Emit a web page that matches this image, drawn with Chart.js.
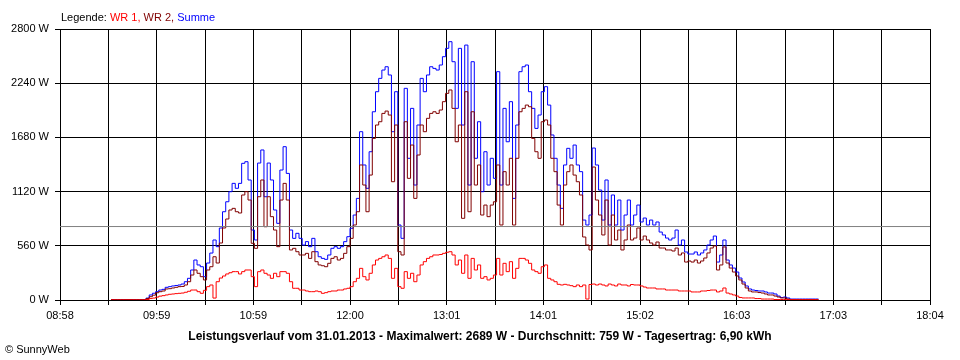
<!DOCTYPE html>
<html><head><meta charset="utf-8">
<script src="https://cdn.jsdelivr.net/npm/chart.js@4/dist/chart.umd.min.js"></script>
<style>
html,body{margin:0;padding:0;background:#fff;}
#wrap{position:relative;width:960px;height:360px;font-family:'Liberation Sans',Arial,sans-serif;color:#000;}
canvas{position:absolute;left:0;top:0;}
#legend{position:absolute;left:61px;top:11px;font-size:11px;line-height:13px;white-space:pre;}
#caption{position:absolute;left:0;width:960px;top:329px;text-align:center;font-weight:bold;font-size:12px;line-height:14px;}
#copy{position:absolute;left:5px;top:343px;font-size:11px;line-height:13px;}
</style></head>
<body><div id="wrap"><canvas id="c" width="960" height="360"></canvas>
<div id="legend"><span>Legende: </span><span style="color:#ff0000">WR 1, </span><span style="color:#800000">WR 2, </span><span style="color:#0000ff">Summe</span></div>
<div id="caption">Leistungsverlauf vom 31.01.2013 - Maximalwert: 2689 W - Durchschnitt: 759 W - Tagesertrag: 6,90 kWh</div>
<div id="copy">© SunnyWeb</div>
</div>
<script>
// time axis (minutes of day)
const axisStart = 538;   // 08:58
const axisEnd = 1084;    // 18:04
const sampleStart = 570; // 09:30
const sampleStep = 2;    // minutes between samples
const yTicks = [0, 560, 1120, 1680, 2240, 2800];
const average = 759;

const summe = [
5,5,5,5,5,5,5,5,5,5,
5,20,52,70,86,103,110,131,138,145,
150,155,165,189,224,310,413,362,344,241,
382,485,620,551,744,912,1015,1119,1205,1154,
1205,1412,1429,1240,723,620,1415,1550,1067,1415,
1240,930,792,1343,1584,1308,723,637,689,637,
568,603,551,637,499,447,430,420,465,534,
551,534,551,603,654,741,878,1050,1739,1395,
1154,1532,1945,2152,2290,2376,2410,2325,1739,2152,
775,637,2187,1464,1980,1188,1808,2290,2152,2325,
2410,2393,2376,2428,2514,2600,2669,2462,1980,2600,
1808,2634,1188,2462,1464,1842,1119,1532,1188,1464,
1257,2359,1188,1980,1635,2049,1050,1808,2359,2410,
2428,2152,1980,1773,1911,2152,2204,2014,1705,1464,
1188,947,1395,1567,1464,1601,1395,1326,826,775,
878,1570,1395,1136,826,1240,775,1085,775,1033,
723,878,1033,775,878,981,806,847,775,826,
775,806,702,672,640,620,640,723,568,620,
496,475,475,496,465,486,517,568,620,661,
392,465,620,413,362,330,289,227,186,145,
114,103,98,93,93,83,72,72,62,41,
26,31,21,10,10,10,10,10,10,10,
10,10,10];

const wr2 = [
4,4,4,4,4,4,4,4,4,4,
4,15,34,50,75,86,93,114,117,124,
131,138,140,155,189,258,310,276,241,207,
310,344,447,382,589,744,837,930,947,912,
899,1085,1119,1033,586,534,1067,1240,757,1067,
861,723,551,1033,1205,1033,517,534,499,465,
465,482,430,499,396,362,354,344,379,430,
447,413,430,482,551,637,775,912,1395,1188,
912,1291,1670,1808,1842,1928,1952,1911,1222,1808,
499,465,1842,1257,1601,1050,1498,1808,1739,1877,
1928,1945,1928,1963,2049,2135,2170,1980,1635,1808,
844,2152,912,1945,1188,1395,878,981,861,981,
1015,1395,775,1326,1188,1464,775,1464,1945,1980,
2014,1997,1670,1532,1464,1842,1860,1808,1464,1326,
981,775,1188,1326,1395,1291,1222,1085,651,568,
517,1374,1033,878,672,1033,568,878,620,723,
517,620,775,620,640,744,620,661,620,589,
568,599,537,537,517,517,506,537,465,486,
392,403,392,413,382,403,434,486,537,558,
310,362,548,382,330,289,248,207,165,124,
93,83,83,77,72,62,52,52,41,31,
21,21,10,5,5,5,5,5,5,5,
5,5,5];

const wr1 = [
1,1,1,1,1,1,1,1,1,1,
1,5,15,20,30,40,45,52,59,62,
66,69,72,80,90,103,103,86,69,100,
138,155,20,189,227,248,269,282,293,293,
269,293,310,310,241,138,293,310,276,258,
224,276,241,293,293,276,189,121,121,103,
103,93,86,86,93,86,69,76,86,93,
93,103,103,114,121,138,189,224,327,241,
207,276,362,413,430,447,465,430,224,327,
138,121,293,224,276,189,258,362,396,430,
447,465,465,470,482,493,499,465,362,413,
276,465,224,430,310,362,224,241,207,224,
258,430,258,379,293,396,224,327,430,430,
413,379,310,293,276,344,362,224,207,189,
162,155,162,155,148,138,155,138,155,10,
160,165,155,165,155,145,165,155,145,165,
155,155,145,160,155,155,145,134,124,124,
124,114,114,114,103,103,103,103,93,93,
93,93,83,83,83,93,93,98,103,103,
83,93,124,72,62,52,41,26,21,21,
21,21,15,15,10,10,10,10,5,5,
5,5,5,3,3,3,3,3,3,3,
3,3,3];

function points(arr){ return arr.map((v,i)=>({x: sampleStart + i*sampleStep, y: v})); }
function fmtTime(v){ const m = Math.round(v); const h = Math.floor(m/60), mm = m%60; return String(h).padStart(2,'0')+':'+String(mm).padStart(2,'0'); }

const FONT = {family: "'Liberation Sans', Arial, sans-serif", size: 11};
const lineDefaults = {borderWidth: 1, pointRadius: 0, pointHoverRadius: 0, tension: 0, fill: false};

new Chart(document.getElementById('c'), {
  type: 'line',
  data: { datasets: [
    Object.assign({label: 'Durchschnitt', data: [{x: axisStart, y: average}, {x: axisEnd, y: average}], borderColor: '#808080', order: 0}, lineDefaults),
    Object.assign({label: 'WR 1', data: points(wr1), borderColor: '#ff0000', stepped: true, order: 1}, lineDefaults),
    Object.assign({label: 'WR 2', data: points(wr2), borderColor: '#800000', stepped: true, order: 2}, lineDefaults),
    Object.assign({label: 'Summe', data: points(summe), borderColor: '#0000ff', stepped: true, order: 3}, lineDefaults)
  ]},
  options: {
    responsive: false, animation: false, devicePixelRatio: 1,
    layout: {padding: {left: 0, right: 30, top: 29, bottom: 30}},
    plugins: {legend: {display: false}, tooltip: {enabled: false}, title: {display: false}},
    scales: {
      x: {
        type: 'linear', min: axisStart, max: axisEnd,
        afterBuildTicks: s => { const t = []; for (let k = 0; k <= 18; k++) t.push({value: axisStart + k*(axisEnd-axisStart)/18}); s.ticks = t; },
        afterFit: s => { s.height = 30; },
        ticks: {autoSkip: false, maxRotation: 0, minRotation: 0, color: '#000', font: FONT, padding: 4,
          callback: (v, i) => (i % 2 ? '' : fmtTime(v))},
        grid: {color: '#000', lineWidth: 1, tickLength: 5, drawTicks: true},
        border: {color: '#000', width: 1}
      },
      y: {
        min: 0, max: 2800,
        afterBuildTicks: s => { s.ticks = yTicks.map(v => ({value: v})); },
        afterFit: s => { s.width = 60; },
        ticks: {color: '#000', font: FONT, padding: 6, callback: v => v + ' W'},
        grid: {color: '#000', lineWidth: 1, tickLength: 5, drawTicks: true},
        border: {color: '#000', width: 1}
      }
    }
  }
});
</script>
</body></html>
